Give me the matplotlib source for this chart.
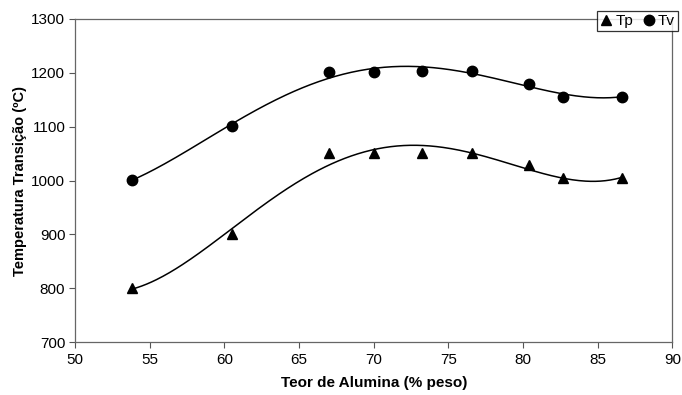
import numpy as np
import matplotlib

matplotlib.use("Agg")
import matplotlib.pyplot as plt
from matplotlib.lines import Line2D

plt.rcParams["font.family"] = ["Liberation Sans", "DejaVu Sans"]

# alumina content (% by weight) and transition temperatures (ºC)
alumina = [53.8, 60.5, 67.0, 70.0, 73.2, 76.6, 80.4, 82.7, 86.6]
tp = [800, 901, 1051, 1051, 1051, 1051, 1028, 1004, 1004]
tv = [1001, 1101, 1202, 1202, 1203, 1203, 1180, 1156, 1156]

x_ticks = [50, 55, 60, 65, 70, 75, 80, 85, 90]
y_ticks = [700, 800, 900, 1000, 1100, 1200, 1300]

fig = plt.figure(figsize=(6.82, 3.95), dpi=100)
ax = fig.add_axes([0.110, 0.134, 0.876, 0.818])

# polynomial trendlines through each series
xs = np.linspace(min(alumina), max(alumina), 300)
for series in (tp, tv):
    coef = np.polyfit(alumina, series, 4)
    ax.plot(xs, np.polyval(coef, xs), color="black", lw=1.1, zorder=2)

ax.plot(alumina, tp, ls="none", marker="^", ms=7.5, color="black", zorder=3)
ax.plot(alumina, tv, ls="none", marker="o", ms=7.5, color="black", zorder=3)

ax.set_xlim(50, 90)
ax.set_ylim(700, 1300)
ax.set_xticks(x_ticks)
ax.set_yticks(y_ticks)
ax.tick_params(direction="out", length=4, width=0.8, labelsize=11, color="#555555")
ax.tick_params(axis="x", pad=4)
ax.tick_params(axis="y", pad=3)
for s in ax.spines.values():
    s.set_color("#666666")
    s.set_linewidth(0.9)

ax.set_xlabel("Teor de Alumina (% peso)", fontsize=11, fontweight="bold", labelpad=6)
ax.set_ylabel("Temperatura Transição (ºC)", fontsize=10.5, fontweight="bold", labelpad=3)

handles = [
    Line2D([], [], ls="none", marker="^", ms=7.5, color="black"),
    Line2D([], [], ls="none", marker="o", ms=7.5, color="black"),
]
leg = fig.legend(handles, ["Tp", "Tv"], ncol=2, loc="upper right",
                 bbox_to_anchor=(0.994, 0.972), fontsize=11, frameon=True,
                 fancybox=False, edgecolor="black", handlelength=0.8,
                 handletextpad=0.2, columnspacing=0.6, borderpad=0.2,
                 borderaxespad=0)
leg.get_frame().set_linewidth(0.9)

fig.savefig("out.png", dpi=100)
